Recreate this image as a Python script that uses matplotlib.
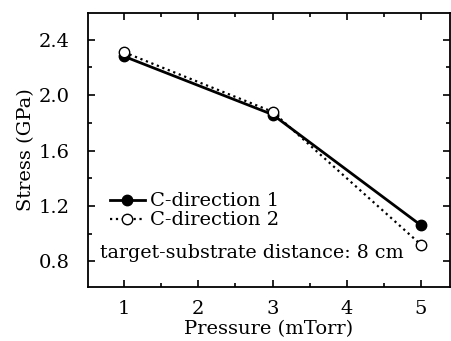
import matplotlib
matplotlib.use('Agg')
import matplotlib.pyplot as plt
import numpy as np
from matplotlib.ticker import MultipleLocator

pressure = [1, 3, 5]
stress_c1 = [2.28, 1.86, 1.06]
stress_c2 = [2.31, 1.88, 0.92]

plt.rcParams['font.family'] = ['DejaVu Serif']
plt.rcParams['mathtext.fontset'] = 'dejavuserif'

fig = plt.figure(figsize=(4.51, 3.41), dpi=100)
ax = fig.add_axes([88 / 451, 1 - 287 / 341, (451 - 89) / 451, (287 - 13) / 341])

ax.plot(pressure, stress_c1, '-', color='black', lw=2, marker='o', ms=7.5,
        mfc='black', mec='black', label='C-direction 1')
ax.plot(pressure, stress_c2, ':', color='black', lw=1.6, marker='o', ms=7.5,
        mfc='white', mec='black', mew=1, label='C-direction 2')

ax.set_xlim(0.515, 5.39)
ax.set_ylim(0.615, 2.593)
ax.xaxis.set_major_locator(MultipleLocator(1))
ax.xaxis.set_minor_locator(MultipleLocator(0.5))
ax.yaxis.set_major_locator(MultipleLocator(0.4))
ax.yaxis.set_minor_locator(MultipleLocator(0.2))
ax.tick_params(which='both', direction='in', top=True, right=True, labelsize=14, width=1.2)
ax.tick_params(which='major', length=5)
ax.tick_params(which='minor', length=3)
ax.tick_params(axis='x', which='major', pad=9)
ax.tick_params(axis='y', which='major', pad=13)
for s in ax.spines.values():
    s.set_linewidth(1.3)

ax.set_xlabel('Pressure (mTorr)', fontsize=14, labelpad=2)
ax.set_ylabel('Stress (GPa)', fontsize=14, labelpad=3)

ax.legend(loc='upper left', bbox_to_anchor=(0.06, 0.345), frameon=False, fontsize=14,
          handlelength=1.8, handletextpad=0.25, labelspacing=0.05, borderaxespad=0,
          borderpad=0)
ax.text(0.033, 0.124, 'target-substrate distance: 8 cm', transform=ax.transAxes,
        fontsize=13.7, ha='left', va='center')

fig.savefig('out.png', dpi=100)
